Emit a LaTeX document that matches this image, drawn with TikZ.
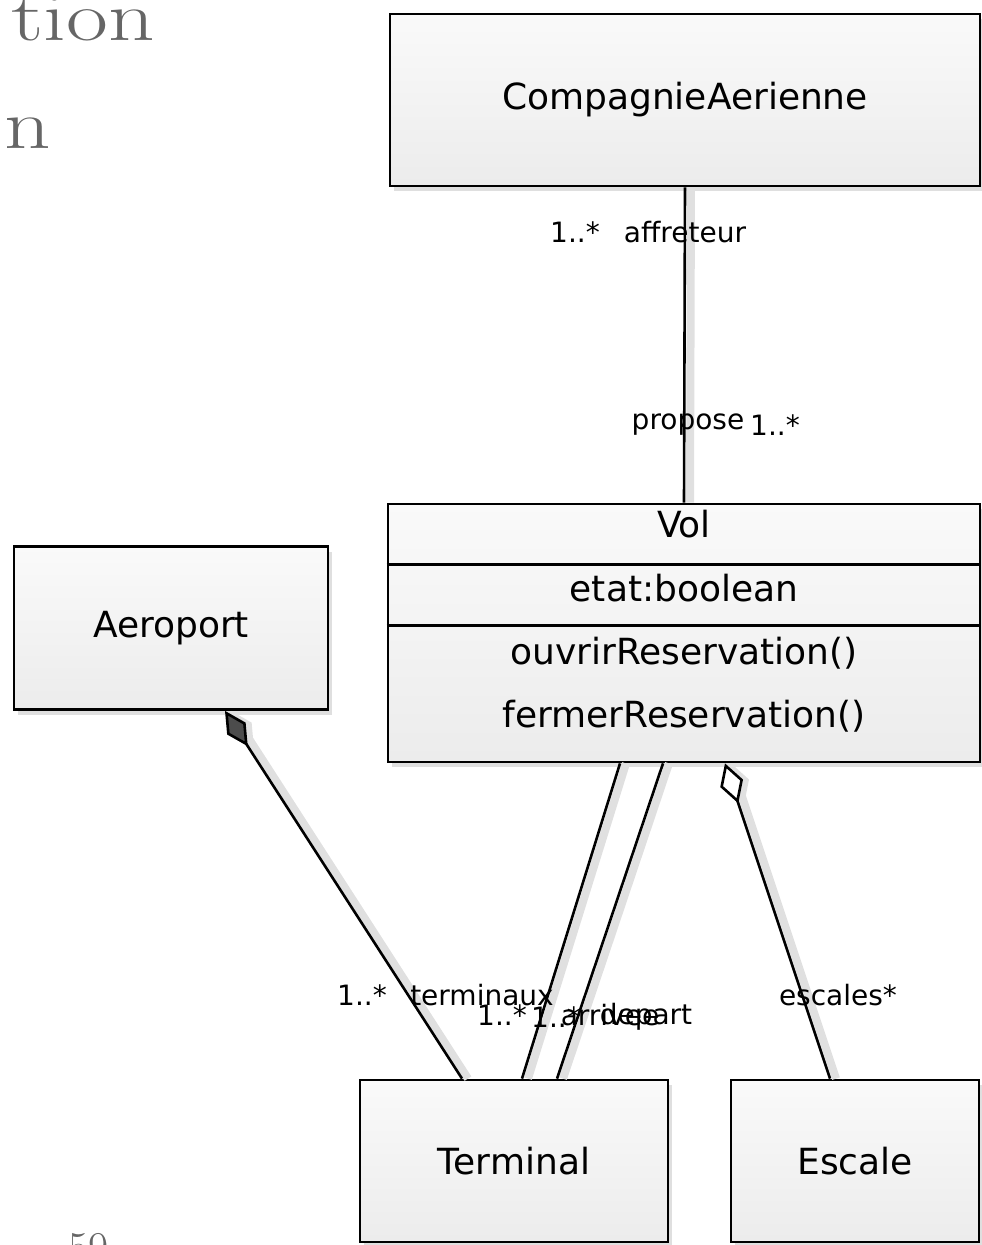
\documentclass[tikz,border=0pt]{standalone}
\usepackage{graphicx}
\usepackage{fontspec}
\setsansfont{DejaVu Sans}
\usetikzlibrary{arrows.meta,shadows}
\definecolor{slidegray}{HTML}{666666}
\tikzset{
  cls/.style={draw=black, line width=2.8pt, top color=gray!4, bottom color=gray!15,
    drop shadow={shadow xshift=4pt, shadow yshift=-5pt, opacity=0.25},
    font=\sffamily\fontsize{36}{40}\selectfont},
  txt/.style={font=\sffamily\fontsize{36}{40}\selectfont, inner sep=0pt},
  lbl/.style={font=\sffamily\fontsize{28}{30}\selectfont, inner sep=0pt},
  assoc/.style={line width=2.6pt,
    preaction={draw=black!12, line width=8pt, transform canvas={xshift=6pt}}},
  slide/.style={text=slidegray, inner sep=0pt},
}
\begin{document}
\begin{tikzpicture}[x=1pt, y=-1pt]
  \useasboundingbox (0,0) rectangle (982,1245);
  % slide title and page number, cut by the frame
  \node[slide, anchor=base east, font=\fontsize{70}{74}\selectfont] (titre1) at (155,40) {\scalebox{1.3}[1]{tion}};
  \node[slide, anchor=base east, font=\fontsize{70}{74}\selectfont] (titre2) at (51,148) {\scalebox{1.3}[1]{n}};
  \node[slide, anchor=base west, font=\fontsize{44}{48}\selectfont] (pagenum) at (68,1262) {59};
  % classes
  \node[cls, minimum width=590pt, minimum height=172pt] (compagnie) at (685,100) {CompagnieAerienne};
  \node[cls, minimum width=592pt, minimum height=258pt] (vol) at (684,633) {};
  \draw[line width=2.6pt] ([yshift=-62pt]vol.north west) -- ([yshift=-62pt]vol.north east);
  \draw[line width=2.6pt] ([yshift=-123pt]vol.north west) -- ([yshift=-123pt]vol.north east);
  \node[txt] (volnom) at (684,524) {Vol};
  \node[txt] (etat) at (684,588) {etat:boolean};
  \node[txt] (ouvrir) at (684,653) {ouvrirReservation()};
  \node[txt] (fermer) at (684,716) {fermerReservation()};
  \node[cls, minimum width=314pt, minimum height=163pt] (aeroport) at (171,628) {Aeroport};
  \node[cls, minimum width=308pt, minimum height=162pt] (terminal) at (514,1161) {Terminal};
  \node[cls, minimum width=248pt, minimum height=162pt] (escale) at (855,1161) {Escale};
  % associations
  \draw[assoc] (compagnie.south) -- (vol.north);
  \draw[assoc, {Diamond[length=42pt, width=22pt, fill=black!70]}-] ([xshift=54pt]aeroport.south) -- ([xshift=-52pt]terminal.north);
  \draw[assoc] ([xshift=-64pt]vol.south) -- ([xshift=8pt]terminal.north);
  \draw[assoc] ([xshift=-21pt]vol.south) -- ([xshift=43pt]terminal.north);
  \draw[assoc, {Diamond[length=42pt, width=24pt, fill=white]}-] ([xshift=41pt]vol.south) -- ([xshift=-25pt]escale.north);
  % roles and multiplicities
  \node[lbl] (multAffr) at (575,232) {1..*};
  \node[lbl] (roleAffr) at (685,232) {affreteur};
  \node[lbl] (roleProp) at (688,425) {propose};
  \node[lbl] (multProp) at (775,425) {1..*};
  \node[lbl] (multTerm) at (362,995) {1..*};
  \node[lbl] (roleTerm) at (482,995) {terminaux};
  \node[lbl] (multArr) at (502,1015) {1..*};
  \node[lbl] (roleArr) at (610,1015) {arrivee};
  \node[lbl] (multDep) at (556,1017) {1..*};
  \node[lbl] (roleDep) at (646,1017) {depart};
  \node[lbl] (roleEsc) at (838,995) {escales*};
\end{tikzpicture}
\end{document}
